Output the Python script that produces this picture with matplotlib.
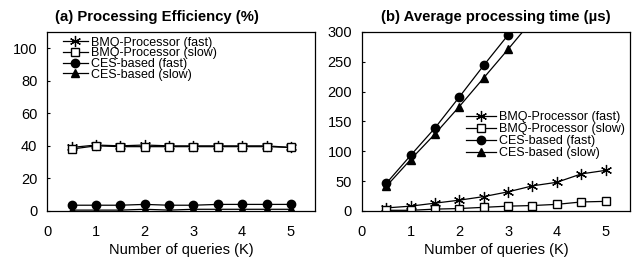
import matplotlib
matplotlib.use("Agg")
import matplotlib.pyplot as plt

plt.rcParams["font.family"] = ["Liberation Sans", "DejaVu Sans"]

queries = [0.5, 1, 1.5, 2, 2.5, 3, 3.5, 4, 4.5, 5]
labels = ["BMQ-Processor (fast)", "BMQ-Processor (slow)", "CES-based (fast)", "CES-based (slow)"]
markers = ["x", "s", "o", "^"]

# (a) processing efficiency (%)
eff_bmq_fast = [39, 40.5, 40, 40.5, 40, 40, 40, 40, 40, 39]
eff_bmq_slow = [38, 40, 39.5, 39.5, 39.5, 39.5, 39.5, 39.5, 39.5, 39]
eff_ces_fast = [3.5, 3.5, 3.5, 4, 3.5, 3.5, 4, 4, 4, 4]
eff_ces_slow = [0.5, 0.5, 0.5, 1, 0.5, 1, 1, 1, 1, 1]

# (b) average processing time (us)
time_bmq_fast = [5, 8, 13, 18, 24, 32, 42, 48, 62, 68]
time_bmq_slow = [1, 1, 3, 4, 6, 8, 9, 11, 15, 16]
ces_queries = [0.5, 1, 1.5, 2, 2.5, 3, 3.5]
time_ces_fast = [46, 93, 139, 191, 244, 295, 346]
time_ces_slow = [41, 86, 129, 175, 223, 271, 320]

fig = plt.figure(figsize=(6.37, 2.62), dpi=100)
ax1 = fig.add_axes([0.074, 0.195, 0.421, 0.683])
ax2 = fig.add_axes([0.568, 0.195, 0.421, 0.683])

def style(m):
    kw = dict(color="black", lw=0.9, marker=m, markersize=6)
    if m == "s":
        kw.update(markerfacecolor="white", markersize=6)
    if m == "^":
        kw.update(markersize=5.5)
    if m == "x":
        kw.update(marker=(6, 2, 0), markersize=8, markeredgewidth=0.9)
    return kw

series_a = [eff_bmq_fast, eff_bmq_slow, eff_ces_fast, eff_ces_slow]
for vals, lab, m in zip(series_a, labels, markers):
    ax1.plot(queries, vals, label=lab, **style(m))

xs_b = [queries, queries, ces_queries, ces_queries]
series_b = [time_bmq_fast, time_bmq_slow, time_ces_fast, time_ces_slow]
for x, vals, lab, m in zip(xs_b, series_b, labels, markers):
    ax2.plot(x, vals, label=lab, **style(m))

ax1.set_xlim(0, 5.5)
ax1.set_ylim(0, 110)
ax1.set_yticks([0, 20, 40, 60, 80, 100])
ax2.set_xlim(0, 5.5)
ax2.set_ylim(0, 300)
ax2.set_yticks([0, 50, 100, 150, 200, 250, 300])

for ax in (ax1, ax2):
    ax.set_xticks([0, 1, 2, 3, 4, 5])
    ax.tick_params(axis="x", length=0, labelsize=10.5, pad=10)
    ax.tick_params(axis="y", direction="in", length=2, labelsize=10.5, pad=7)
    ax.set_xlabel("Number of queries (K)", fontsize=10.5, labelpad=3)
    for sp in ax.spines.values():
        sp.set_linewidth(0.9)

ax1.set_title("(a) Processing Efficiency (%)", fontsize=10.7, fontweight="bold", pad=8, x=0.41)
ax2.set_title("(b) Average processing time (\u00b5s)", fontsize=10.7, fontweight="bold", pad=8)

ax1.legend(loc="upper left", bbox_to_anchor=(0.02, 1.03), frameon=False, fontsize=9,
           handlelength=2.0, labelspacing=-0.1, borderpad=0.3, handletextpad=0.3)
leg2 = ax2.legend(loc="upper left", bbox_to_anchor=(0.38, 0.57), frameon=True, fontsize=9,
                  handlelength=2.4, labelspacing=0.0, borderpad=0.2, handletextpad=0.2,
                  fancybox=False, borderaxespad=0)
leg2.get_frame().set_edgecolor("none")
leg2.get_frame().set_facecolor("white")
leg2.get_frame().set_alpha(1)

fig.savefig("out.png", dpi=100)
